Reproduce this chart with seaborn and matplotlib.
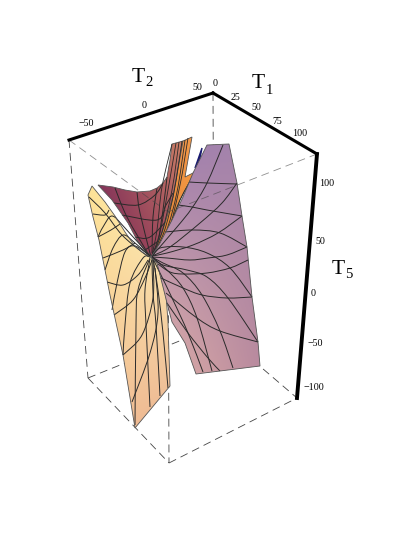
import numpy as np
import matplotlib
matplotlib.use('Agg')
import matplotlib.pyplot as plt
import seaborn as sns
from matplotlib.colors import to_rgb
from matplotlib.patches import PathPatch, Polygon
from matplotlib.path import Path

# Bounding box corners
corner_a = (69, 140)
corner_b = (213, 93)
corner_c = (317, 154)
corner_d = (297, 398)
corner_e = (169, 463)
corner_f = (88, 378)
corner_g = (214, 327)
corner_h = (168, 212)

# Tick labels (text, x, y)
t2_ticks = [('\u221250', 86, 123), ('0', 144, 105), ('50', 197, 88)]
t1_ticks = [('0', 215, 84), ('25', 235, 97), ('50', 256, 108), ('75', 277, 121), ('100', 300, 133)]
t5_ticks = [('100', 327, 183), ('50', 320, 241), ('0', 313, 293), ('\u221250', 315, 343), ('\u2212100', 314, 388)]

# Sheet outlines
purple_outline = [(151, 257), (160, 243), (172, 220), (183, 197), (193, 173), (207, 145), (229, 144), (237, 183),
                  (242, 216), (247, 247), (252, 297), (258, 342), (260, 366), (196, 374), (185, 343), (172, 322),
                  (167, 303), (157, 263)]
orange_outline = [(150, 257), (142, 252), (134, 245), (125, 232), (115, 216), (105, 202), (92, 186), (88, 195), (93, 217),
                  (99, 240), (110, 295), (123, 355), (135, 428), (170, 386), (168, 322), (166, 295), (157, 263)]
red_outline = [(98, 185), (113, 187), (125, 190), (137, 192), (150, 191), (157, 188), (163, 183), (167, 177), (170, 160),
               (172, 144), (183, 141), (173, 197), (162, 233), (152, 257), (145, 250), (137, 240), (128, 223), (112, 200)]
fold_outline = [(192, 137), (185, 177), (195, 172), (180, 200), (167, 233), (152, 256), (162, 233), (173, 197), (183, 141)]
sliver_outline = [(202, 148), (195, 168), (199, 163)]

# Colours at the corners of each sheet: top left, top right, bottom left, bottom right
purple_colors = ['#a07fb0', '#a584aa', '#e2b2a8', '#b98a9e']
orange_colors = ['#fee397', '#fff6bc', '#f5c397', '#ecb591']
red_colors = ['#8a3a60', '#cc8066', '#7a2a50', '#a85060']
fold_colors = ['#e88a5a', '#f59a45', '#d87a2a', '#f59a35']

# Mesh lines on the purple sheet
purple_arcs = [
    [(189, 182), (207, 183), (237, 184)],
    [(178, 205), (192, 207), (207, 210), (242, 216)],
    [(165, 232), (193, 230), (220, 233), (247, 247)],
    [(158, 264), (170, 272), (183, 274), (207, 273), (230, 268), (248, 260)],
    [(161, 278), (183, 288), (202, 295), (227, 298), (252, 297)],
    [(166, 293), (197, 318), (220, 331), (258, 342)],
    [(167, 303), (188, 333), (208, 358), (220, 371)],
]
purple_spokes = [
    [(152, 256), (177, 227), (192, 208), (207, 183), (223, 145)],
    [(152, 256), (170, 247), (200, 223), (222, 203), (237, 183)],
    [(152, 256), (167, 253), (193, 245), (218, 233), (242, 216)],
    [(152, 257), (167, 258), (190, 260), (208, 258), (227, 255), (247, 247)],
    [(152, 257), (160, 248), (183, 247), (207, 253), (230, 268), (252, 297)],
    [(152, 257), (163, 265), (187, 270), (207, 277), (228, 298), (258, 342)],
    [(152, 257), (163, 263), (183, 273), (202, 295), (220, 331), (233, 368)],
    [(152, 257), (167, 270), (183, 288), (197, 318), (212, 371)],
    [(152, 257), (160, 273), (173, 300), (188, 333), (203, 372)],
]

# Mesh lines on the orange sheet
orange_arcs = [
    [(93, 214), (105, 215), (109, 210)],
    [(98, 237), (111, 230), (120, 224)],
    [(103, 258), (123, 250), (135, 243)],
    [(107, 282), (123, 285), (138, 275), (148, 260)],
    [(114, 315), (133, 300), (145, 278), (152, 260)],
    [(123, 355), (142, 335), (153, 298), (153, 260)],
    [(132, 402), (150, 353), (158, 313), (155, 268)],
]
orange_spokes = [
    [(89, 197), (105, 213), (122, 235), (142, 252), (150, 257)],
    [(150, 256), (125, 228), (112, 216), (103, 227), (98, 237)],
    [(150, 256), (135, 243), (123, 235), (113, 248), (105, 270)],
    [(150, 256), (135, 246), (125, 252), (117, 283), (112, 310)],
    [(150, 257), (143, 258), (130, 283), (125, 325), (123, 355)],
    [(150, 258), (138, 290), (136, 325), (135, 425)],
    [(150, 259), (145, 290), (146, 325), (150, 407)],
    [(152, 259), (153, 293), (156, 325), (160, 396)],
    [(153, 258), (158, 290), (163, 333), (168, 388)],
]

# Mesh lines on the red sheet and the fold
red_arcs = [
    [(114, 203), (138, 205), (155, 195), (163, 183)],
    [(122, 215), (157, 220), (166, 205), (173, 193)],
    [(135, 237), (150, 237), (170, 217)],
    [(145, 250), (160, 240)],
]
red_spokes = [
    [(115, 188), (127, 217), (150, 257)],
    [(137, 192), (140, 213), (151, 257)],
    [(157, 188), (153, 217), (152, 253)],
    [(167, 177), (163, 210), (157, 250)],
    [(172, 144), (162, 187), (157, 230), (152, 255)],
    [(176, 143), (168, 190), (160, 232), (152, 256)],
    [(179, 142), (172, 190), (162, 232), (152, 256)],
    [(182, 141), (174, 192), (164, 232), (152, 256)],
    [(185, 140), (177, 192), (166, 232), (152, 256)],
    [(188, 138), (180, 185), (168, 232), (152, 256)],
    [(195, 172), (180, 200), (167, 233), (152, 256)],
]

sns.set_style('white')
fig = plt.figure(figsize=(4.15, 5.37), dpi=100)
ax = fig.add_axes([0, 0, 1, 1])


def dashed(p, q, **kw):
    sns.lineplot(x=[p[0], q[0]], y=[p[1], q[1]], sort=False, estimator=None, ax=ax, color='#444444',
                 linewidth=0.6, linestyle=(0, (9.5, 6)), **kw)


def thick(p, q, lw):
    line = sns.lineplot(x=[p[0], q[0]], y=[p[1], q[1]], sort=False, estimator=None, ax=ax, color='black', linewidth=lw, zorder=6)
    line.lines[-1].set_solid_capstyle('projecting')


def curve(line, zorder, lw=0.7):
    # bezier handles through the read nodes so the mesh lines bend instead of kinking
    p = np.array(line, dtype=float)
    verts = [p[0]]
    codes = [Path.MOVETO]
    for i in range(len(p) - 1):
        before = p[max(i - 1, 0)]
        after = p[min(i + 2, len(p) - 1)]
        verts += [p[i] + (p[i + 1] - before) / 6, p[i + 1] - (after - p[i]) / 6, p[i + 1]]
        codes += [Path.CURVE4] * 3
    ax.add_patch(PathPatch(Path(verts, codes), fill=False, edgecolor='#2a2a2a', linewidth=lw, zorder=zorder))


def sheet(outline, colors, arcs=(), spokes=(), zorder=2):
    pts = np.array(outline, dtype=float)
    x0, y0 = pts.min(axis=0)
    x1, y1 = pts.max(axis=0)
    u, v = np.meshgrid(np.linspace(0, 1, 120), np.linspace(0, 1, 120))
    tl, tr, bl, br = [np.array(to_rgb(c)) for c in colors]
    u = u[..., None]
    v = v[..., None]
    img = (1 - v) * ((1 - u) * tl + u * tr) + v * ((1 - u) * bl + u * br)
    im = ax.imshow(img, extent=(x0, x1, y1, y0), aspect='auto', zorder=zorder, interpolation='bilinear')
    poly = Polygon(pts, closed=True, facecolor='none', edgecolor='#555555', linewidth=0.6, zorder=zorder + 0.2)
    ax.add_patch(poly)
    im.set_clip_path(poly)
    for line in list(arcs) + list(spokes):
        curve(line, zorder + 0.1)


# Hidden edges of the box
for p, q in [(corner_b, corner_g), (corner_a, corner_f), (corner_f, corner_g), (corner_g, corner_d),
             (corner_f, corner_e), (corner_e, corner_d), (corner_h, corner_e)]:
    dashed(p, q, zorder=1)

sheet(red_outline, red_colors, red_arcs, red_spokes[:4], zorder=2)
sheet(fold_outline, fold_colors, zorder=2.5)
ax.fill(*zip(*sliver_outline), color='#1a1a70', zorder=2.4)
for line in red_spokes[4:]:
    curve(line, 2.8, lw=0.6)
sheet(orange_outline, orange_colors, orange_arcs, orange_spokes, zorder=3)
sheet(purple_outline, purple_colors, purple_arcs, purple_spokes, zorder=4)

# Top edges of the box show faintly through the surface
for p, q in [(corner_a, corner_h), (corner_c, corner_h)]:
    dashed(p, q, zorder=5, alpha=0.6)

thick(corner_a, corner_b, 2.2)
thick(corner_b, corner_c, 2.2)
thick(corner_c, corner_d, 2.8)

for label, x, y in t2_ticks + t1_ticks + t5_ticks:
    ax.text(x, y, label, ha='center', va='center', fontsize=7.2, family='Liberation Serif', color='black')

for label, sub, x, y, sx, sy in [('T', '2', 138, 77, 149, 83), ('T', '1', 258, 84, 269, 90), ('T', '5', 338, 269, 349, 274)]:
    ax.text(x, y, label, ha='center', va='center', fontsize=15.5, family='Liberation Serif', color='black')
    ax.text(sx, sy, sub, ha='center', va='center', fontsize=10.5, family='Liberation Serif', color='black')

ax.set_xlim(0, 415)
ax.set_ylim(537, 0)
ax.axis('off')
fig.savefig('out.png', dpi=100, facecolor='white')
